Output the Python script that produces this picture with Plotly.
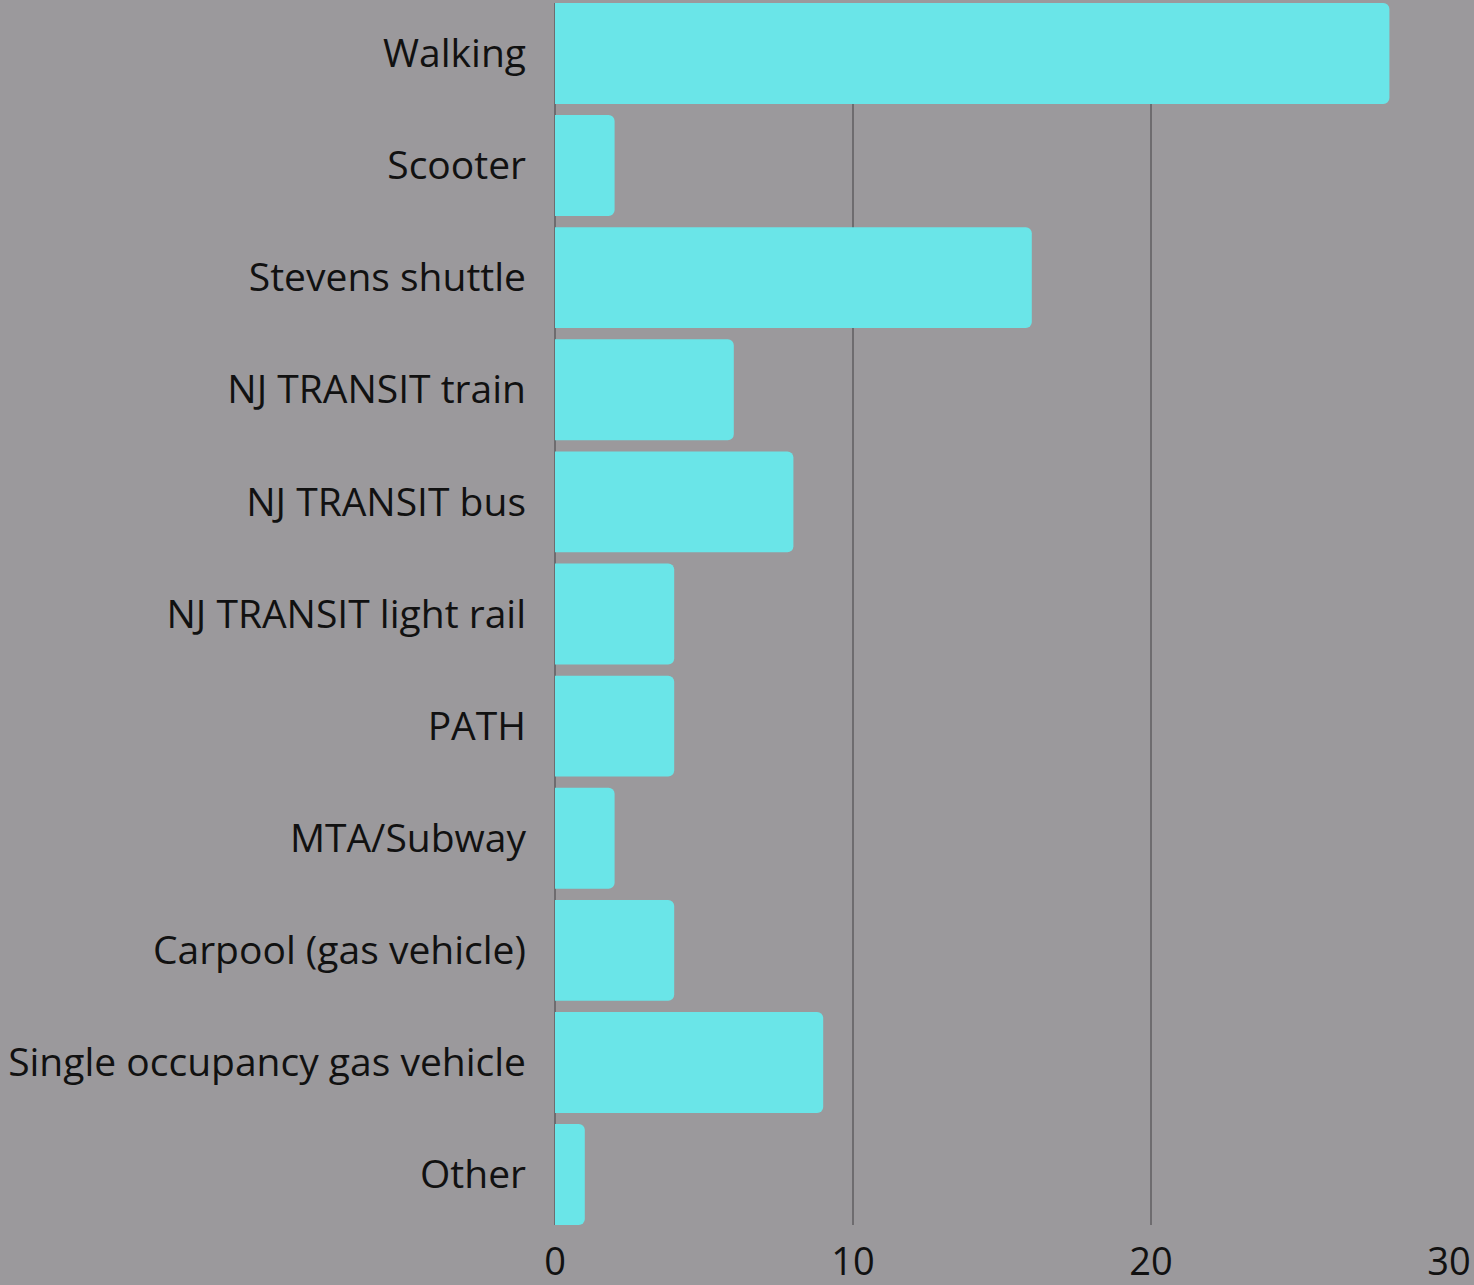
import plotly.graph_objects as go

categories = ["Walking", "Scooter", "Stevens shuttle", "NJ TRANSIT train", "NJ TRANSIT bus",
              "NJ TRANSIT light rail", "PATH", "MTA/Subway", "Carpool (gas vehicle)",
              "Single occupancy gas vehicle", "Other"]
values = [28, 2, 16, 6, 8, 4, 4, 2, 4, 9, 1]
x_ticks = [0, 10, 20, 30]

BG = "#9b999c"
BAR = "#6ae5e8"
GAP = 0.1

fig = go.Figure(go.Bar(
    x=values, y=categories, orientation="h",
    marker=dict(color=BAR, line=dict(width=0)),
))

n = len(categories)
fig.update_layout(
    width=1474, height=1285,
    paper_bgcolor=BG, plot_bgcolor=BG,
    margin=dict(l=555, r=25, t=3, b=60, autoexpand=False),
    bargap=GAP,
    barcornerradius=6,
    showlegend=False,
    font=dict(family="Open Sans", color="#000000", size=39),
)
fig.update_xaxes(
    range=[0, 30], tickvals=x_ticks, ticktext=[str(t) for t in x_ticks],
    showgrid=True, gridcolor="#6e6c6f", gridwidth=2,
    zeroline=True, zerolinecolor="#6e6c6f", zerolinewidth=2,
    tickfont=dict(size=38, color="#111111"), ticks="", showline=False,
    ticklabelstandoff=11, automargin=False,
)
fig.update_yaxes(
    categoryorder="array", categoryarray=categories,
    range=[n - 0.5 - GAP / 2, -0.5 + GAP / 2],
    tickfont=dict(size=39, color="#111111"), ticks="", showgrid=False,
    ticklabelstandoff=28, automargin=False,
)
fig.write_html(
    "out.html",
    config={"displayModeBar": False},
    post_script="document.body.style.margin='0';document.body.style.background='#9b999c';",
)
